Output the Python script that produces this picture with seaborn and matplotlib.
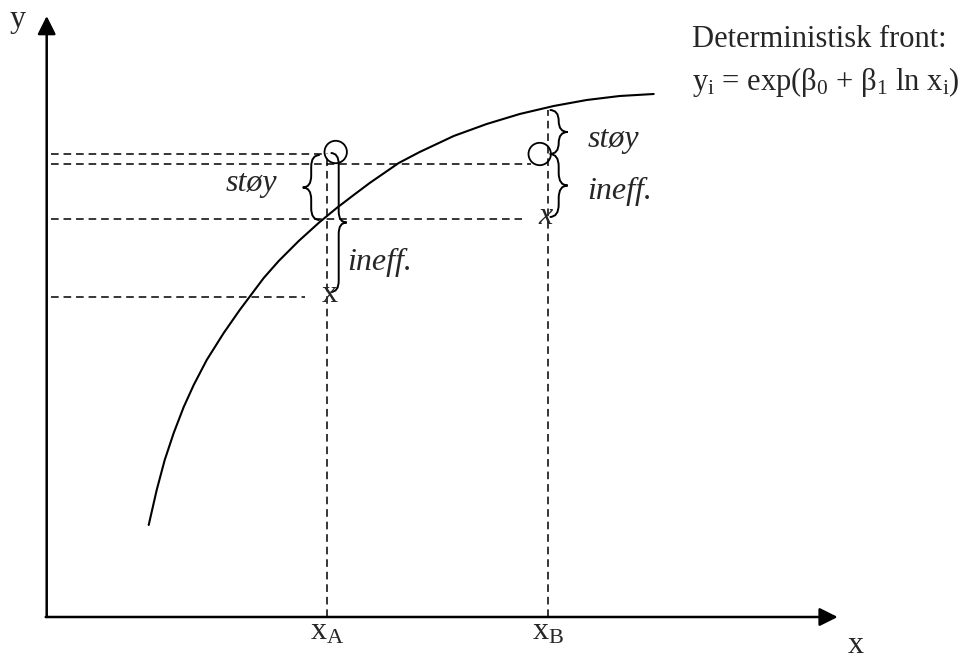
import numpy as np
import pandas as pd
import matplotlib
matplotlib.use("Agg")
import matplotlib.pyplot as plt
from matplotlib.path import Path
from matplotlib.patches import PathPatch
import seaborn as sns

# ---- data (origin at the axis corner) ----
curve_x = [102, 110, 118, 127, 137, 147, 160, 177, 193, 202, 217, 232, 252, 273, 290, 307,
           323, 352, 373, 407, 440, 473, 507, 540, 573, 607]
curve_y = [92, 127, 157, 184, 210, 232, 257, 284, 307, 319, 339, 356, 376, 395, 409, 422,
           434, 454, 465, 481, 493, 503, 511, 517, 521, 523]

firms = ["A", "B"]
firm_x = [280, 501]            # x_A, x_B
observed_y = [465, 463]        # observed output (circles)
ineff_y = [322, 400]           # inefficient (noise-free) output, "x" marks
frontier_top = [464, 507]      # top of the vertical dashed guides

# horizontal dashed guide lines: level and right end
guide_y = [463, 453, 398, 320]
guide_end = [278, 484, 475, 258]
guide_start = 4

# braces: base x, tip x, y from, y to, label, label x, label y
brace_base = [273, 284, 503, 503]
brace_tip = [256, 300, 521, 521]
brace_y0 = [462, 464, 507, 463]
brace_y1 = [397, 325, 463, 400]
brace_label = ["støy", "ineff.", "støy", "ineff."]
label_x = [205, 301, 541, 541]
label_y = [434, 355, 477, 426]
label_ha = ["center", "left", "left", "left"]

title_lines = ["Deterministisk front:",
               r"y$_\mathrm{i}$ = exp(β$_\mathrm{0}$ + β$_\mathrm{1}$ ln x$_\mathrm{i}$)"]

sns.set_style("white")
plt.rcParams["font.family"] = ["Liberation Serif", "DejaVu Serif"]
plt.rcParams["mathtext.fontset"] = "custom"
plt.rcParams["mathtext.rm"] = "Liberation Serif"
plt.rcParams["mathtext.it"] = "Liberation Serif:italic"

fig = plt.figure(figsize=(9.68, 6.6), dpi=100)
ax = fig.add_axes([0, 0, 1, 1])
ax.set_xlim(-46.7, 921.3)
ax.set_ylim(-43, 617)
ax.axis("off")

FS = 23
FS_T = 22
dash = (0, (5, 3.2))
LW_D = 1.1

# frontier curve
df = pd.DataFrame({"x": curve_x, "y": curve_y})
sns.lineplot(data=df, x="x", y="y", ax=ax, color="black", lw=1.5, sort=False, estimator=None)

# axes arrows
ax.annotate("", xy=(0, 601), xytext=(0, 0),
            arrowprops=dict(arrowstyle="-|>,head_length=1.1,head_width=0.55", lw=1.8,
                            color="black", shrinkA=0, shrinkB=0, mutation_scale=10))
ax.annotate("", xy=(791, 0), xytext=(-1, 0),
            arrowprops=dict(arrowstyle="-|>,head_length=1.1,head_width=0.55", lw=1.8,
                            color="black", shrinkA=0, shrinkB=0, mutation_scale=10))

# vertical dashed guides
for fx, top in zip(firm_x, frontier_top):
    ax.plot([fx, fx], [0, top], color="black", lw=LW_D, ls=dash)

# horizontal dashed guides
for gy, ge in zip(guide_y, guide_end):
    ax.plot([guide_start, ge], [gy, gy], color="black", lw=LW_D, ls=dash)

# observed points (circles)
ax.scatter([firm_x[0] + 9, firm_x[1] - 8], observed_y, s=260, facecolors="none",
           edgecolors="black", linewidths=1.3, zorder=5)

# inefficient points "x"
ax.text(firm_x[0] + 3, ineff_y[0], "x", fontsize=FS, ha="center", va="center")
ax.text(firm_x[1] - 2, ineff_y[1], "x", fontsize=FS, ha="center", va="center", style="italic")

# braces
def brace(xb, xt, y0, y1):
    ym = (y0 + y1) / 2
    xm = (xb + xt) / 2
    s = np.sign(y1 - y0)
    r = min(abs(xt - xb) * 0.7, abs(y1 - y0) / 4)
    verts = [(xb, y0), (xm, y0), (xm, y0 + s * r), (xm, ym - s * r), (xm, ym), (xt, ym),
             (xm, ym), (xm, ym + s * r), (xm, y1 - s * r), (xm, y1), (xb, y1)]
    codes = [Path.MOVETO, Path.CURVE3, Path.CURVE3, Path.LINETO, Path.CURVE3, Path.CURVE3,
             Path.CURVE3, Path.CURVE3, Path.LINETO, Path.CURVE3, Path.CURVE3]
    ax.add_patch(PathPatch(Path(verts, codes), fill=False, lw=1.4, color="black"))

for xb, xt, y0, y1 in zip(brace_base, brace_tip, brace_y0, brace_y1):
    brace(xb, xt, y0, y1)

for lab, lx, ly, ha in zip(brace_label, label_x, label_y, label_ha):
    ax.text(lx, ly, lab, fontsize=FS, style="italic", ha=ha, va="center")

# title text
ax.text(645, 570, title_lines[0], fontsize=FS_T, ha="left", va="baseline")
ax.text(645, 527, title_lines[1], fontsize=FS_T, ha="left", va="baseline")

# axis labels
ax.text(-37, 590, "y", fontsize=FS, ha="left", va="baseline")
ax.text(801, -36, "x", fontsize=FS, ha="left", va="baseline")
for fx, f in zip(firm_x, firms):
    ax.text(fx, -23, r"x$_\mathrm{%s}$" % f, fontsize=FS, ha="center", va="baseline")

fig.savefig("out.png", dpi=100)
